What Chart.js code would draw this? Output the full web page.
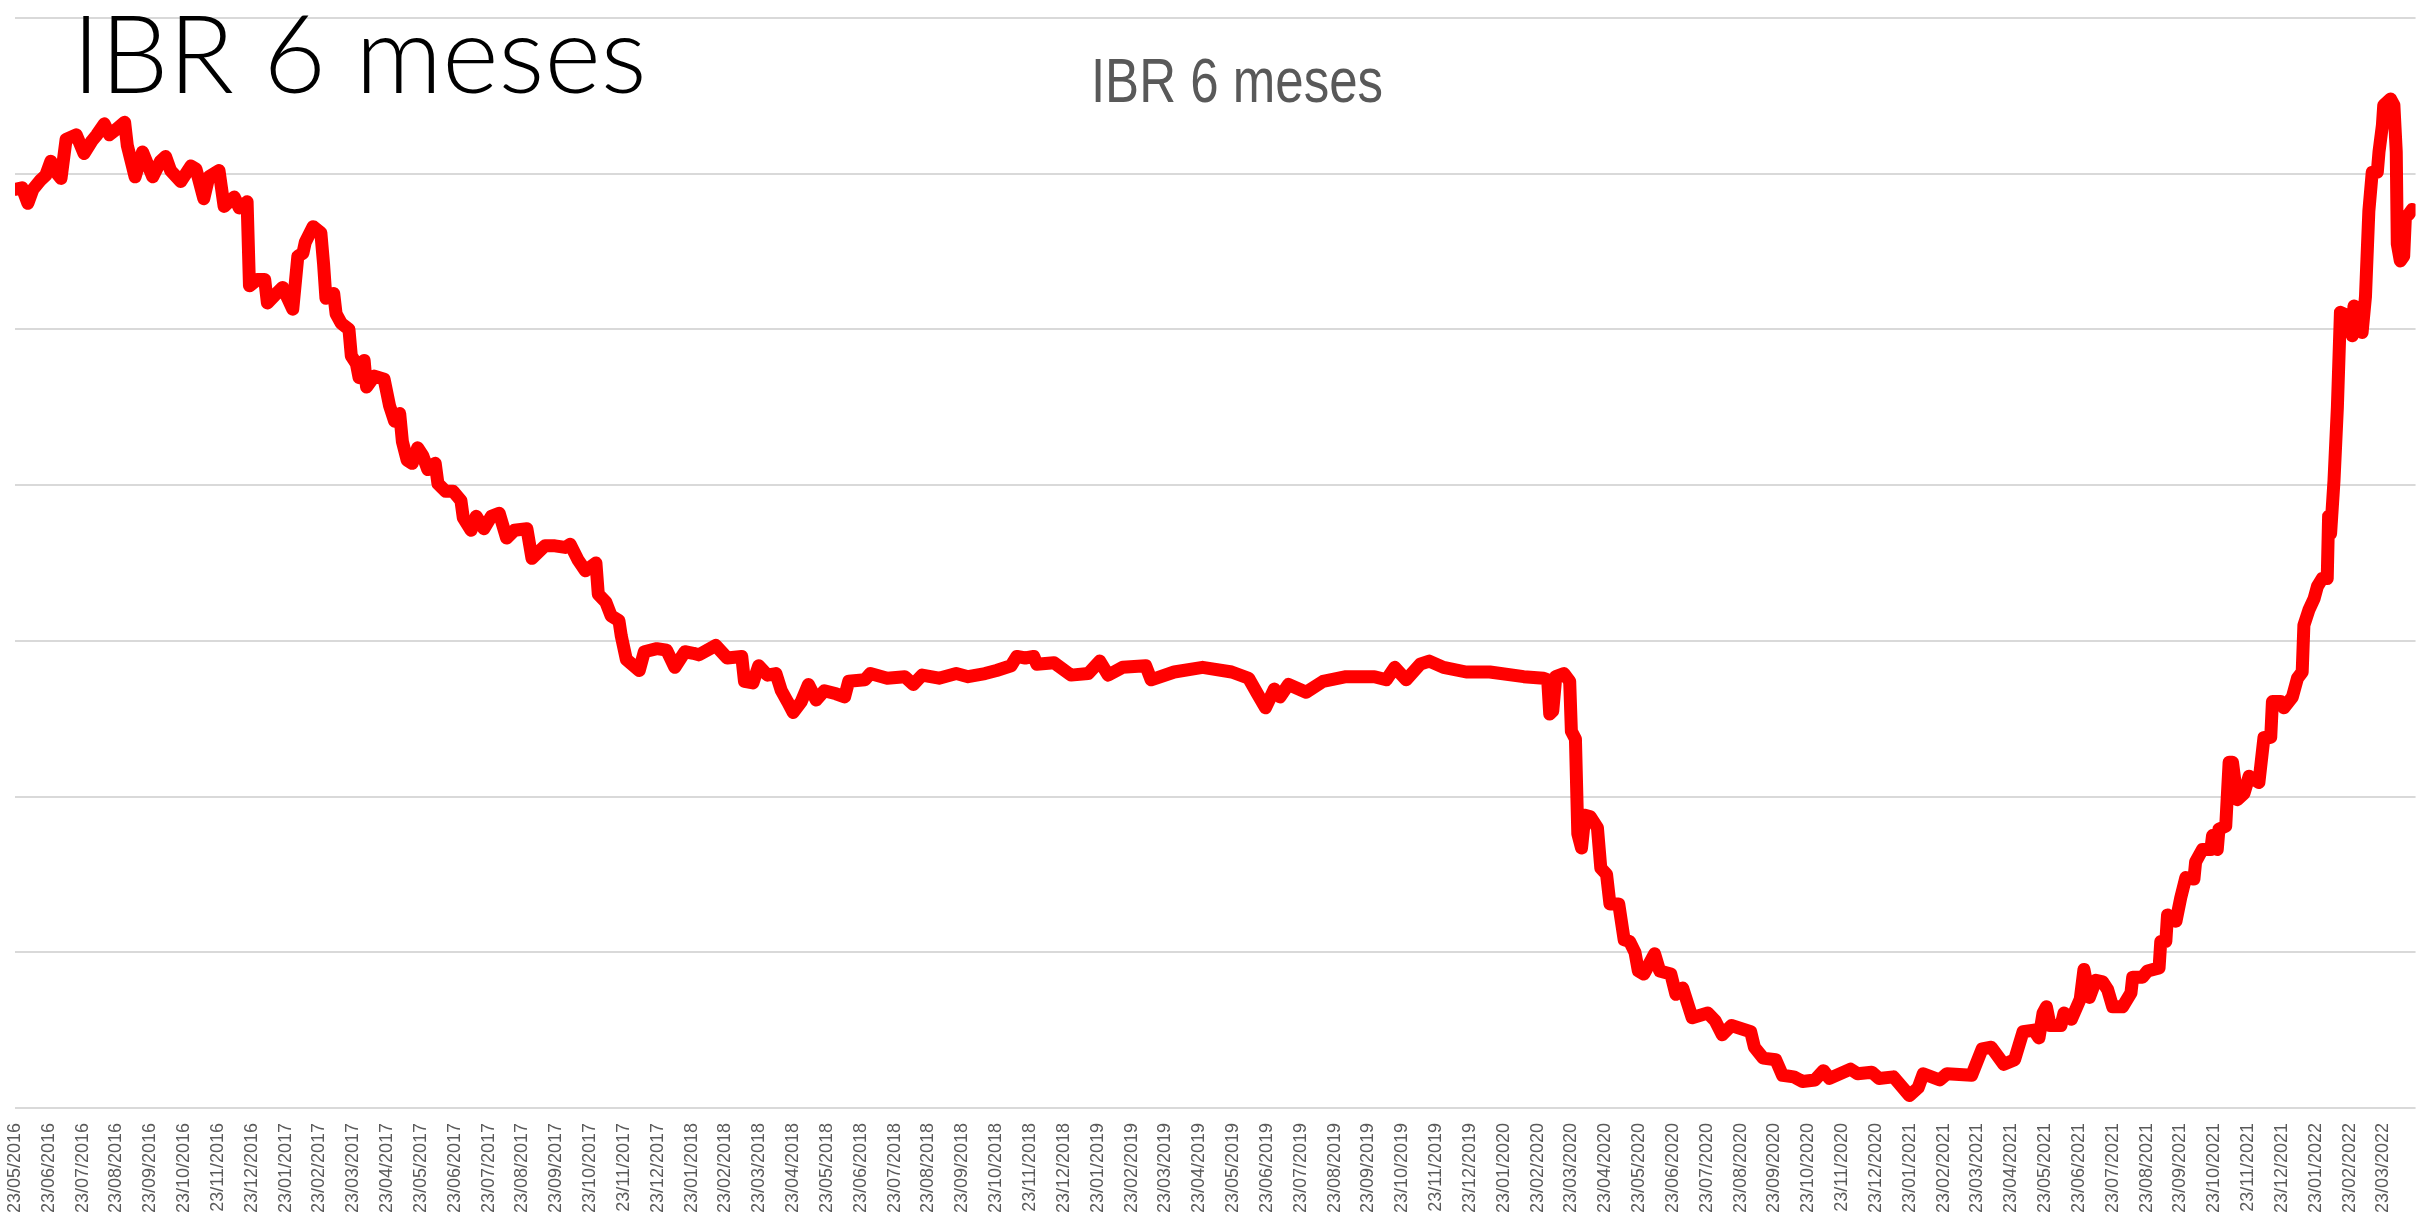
<!DOCTYPE html>
<html lang="es">
<head>
<meta charset="utf-8">
<title>IBR 6 meses</title>
<script src="https://cdn.jsdelivr.net/npm/chart.js@4.4.1/dist/chart.umd.min.js"></script>
<style>
  html, body { margin: 0; padding: 0; background: #fff; }
  #marco { position: relative; width: 2420px; height: 1217px; overflow: hidden; }
  #grafico { position: absolute; left: 0; top: 0; }
  #tituloDiapositiva {
    position: absolute; left: 72px; top: -3px;
    font-family: Lato, "Open Sans", sans-serif; font-weight: 300;
    font-size: 108px; line-height: 108px; color: #000; white-space: nowrap;
  }
  #tituloGrafico {
    position: absolute; left: 1237px; top: 49px;
    font-family: "Liberation Sans", Arial, sans-serif;
    font-size: 63px; line-height: 63px; color: #595959; white-space: nowrap;
    transform: translateX(-50%) scaleX(0.81);
  }
</style>
</head>
<body>
<div id="marco">
  <canvas id="grafico" width="2420" height="1217"></canvas>
  <div id="tituloDiapositiva">IBR 6 meses</div>
  <div id="tituloGrafico">IBR 6 meses</div>
</div>
<script>
// Posición en meses desde el 23/05/2016
const mesesX = [
  0.00, 0.21, 0.38, 0.53, 0.76, 0.91, 1.06, 1.21, 1.36, 1.51, 1.81, 2.04, 2.27, 2.42, 2.64, 2.79,
  3.02, 3.24, 3.32, 3.55, 3.77, 4.07, 4.30, 4.45, 4.60, 4.90, 5.20, 5.35, 5.58, 5.73, 6.03, 6.18,
  6.48, 6.63, 6.86, 6.93, 7.16, 7.38, 7.46, 7.68, 7.91, 8.06, 8.21, 8.36, 8.51, 8.58, 8.81, 9.04,
  9.12, 9.19, 9.42, 9.49, 9.64, 9.87, 9.94, 10.09, 10.17, 10.32, 10.39, 10.62, 10.91, 11.07, 11.22, 11.37,
  11.45, 11.59, 11.74, 11.90, 12.05, 12.20, 12.42, 12.50, 12.73, 12.95, 13.18, 13.25, 13.48, 13.63, 13.86, 14.08,
  14.31, 14.53, 14.76, 15.13, 15.28, 15.66, 15.96, 16.26, 16.41, 16.64, 16.86, 17.17, 17.24, 17.46, 17.62, 17.85,
  17.92, 18.07, 18.45, 18.60, 18.97, 19.26, 19.50, 19.80, 20.05,
  20.21, 20.71, 21.05, 21.48, 21.56, 21.81, 21.98, 22.24, 22.49, 22.65, 22.83, 23.00, 23.24, 23.45, 23.68, 23.92,
  24.27, 24.52, 24.64, 25.12, 25.28, 25.78, 26.30, 26.55, 26.81, 27.31, 27.82, 28.17, 28.67, 29.01, 29.44, 29.61,
  29.86, 30.11, 30.20, 30.71, 31.21, 31.72, 32.06, 32.31, 32.74, 33.42, 33.58, 34.26, 35.10, 35.96, 36.46, 36.72,
  36.96, 37.22, 37.39, 37.64, 38.16, 38.66, 39.34, 40.18, 40.53, 40.78, 41.12, 41.53, 41.80, 42.22, 42.89, 43.59,
  44.59, 45.18, 45.30, 45.36, 45.45, 45.54, 45.78, 45.95, 46.00, 46.12,
  46.19, 46.30, 46.40, 46.56, 46.77, 46.87, 47.04, 47.14, 47.40, 47.56, 47.72, 47.88, 47.98, 48.14, 48.46, 48.61,
  48.94, 49.09, 49.29, 49.57, 50.03, 50.25, 50.46, 50.73, 51.30, 51.41, 51.67, 52.04, 52.24, 52.57, 52.83, 53.20,
  53.45, 53.63, 54.25, 54.46, 54.88, 55.09, 55.52, 55.99, 56.25, 56.40, 56.89, 57.10, 57.83, 58.14, 58.41, 58.78,
  59.10, 59.35, 59.67, 59.82, 59.94, 60.04, 60.15, 60.47, 60.56, 60.78, 61.04, 61.15, 61.31,
  61.50, 61.70, 61.85, 62.00, 62.29, 62.54, 62.59, 62.88, 63.03, 63.37, 63.42, 63.57, 63.62, 63.87, 64.01, 64.16,
  64.40, 64.45, 64.65, 64.90, 64.95, 65.09, 65.14, 65.34, 65.44, 65.54, 65.68, 65.88, 66.03, 66.32, 66.47, 66.67,
  66.72, 66.96, 67.06, 67.31, 67.46, 67.60, 67.65, 67.80, 67.95, 68.05, 68.19, 68.34, 68.38, 68.44, 68.54, 68.64,
  68.73, 68.93, 69.08, 69.13, 69.27, 69.37, 69.47, 69.57, 69.67, 69.82, 69.87, 69.97, 70.01, 70.21, 70.31, 70.38,
  70.41, 70.50, 70.60, 70.65, 70.75, 70.85
];

// Tasa IBR 6 meses (%)
const ibrValores = [
  7.40, 7.41, 7.31, 7.40, 7.46, 7.49, 7.58, 7.51, 7.47, 7.72, 7.75, 7.63, 7.71, 7.75, 7.82, 7.75,
  7.79, 7.83, 7.68, 7.48, 7.64, 7.48, 7.58, 7.61, 7.52, 7.45, 7.55, 7.53, 7.34, 7.48, 7.52, 7.29,
  7.35, 7.28, 7.32, 6.78, 6.82, 6.82, 6.67, 6.72, 6.77, 6.70, 6.63, 6.97, 6.99, 7.06, 7.16, 7.12,
  6.92, 6.70, 6.73, 6.60, 6.54, 6.50, 6.33, 6.28, 6.19, 6.30, 6.13, 6.20, 6.18, 6.01, 5.91, 5.96,
  5.78, 5.66, 5.64, 5.74, 5.69, 5.60, 5.64, 5.51, 5.46, 5.46, 5.40, 5.29, 5.21, 5.30, 5.22, 5.30,
  5.32, 5.16, 5.21, 5.22, 5.03, 5.11, 5.11, 5.10, 5.12, 5.02, 4.95, 5.00, 4.80, 4.75, 4.66, 4.63,
  4.53, 4.38, 4.31, 4.43, 4.45, 4.44, 4.33, 4.43, 4.42,
  4.41, 4.47, 4.39, 4.40, 4.24, 4.23, 4.34, 4.28, 4.29, 4.18, 4.11, 4.04, 4.11, 4.22, 4.12, 4.18,
  4.16, 4.14, 4.24, 4.25, 4.29, 4.26, 4.27, 4.22, 4.28, 4.26, 4.29, 4.27, 4.29, 4.31, 4.34, 4.40,
  4.39, 4.40, 4.35, 4.36, 4.28, 4.29, 4.37, 4.28, 4.33, 4.34, 4.25, 4.30, 4.33, 4.30, 4.26, 4.16,
  4.07, 4.19, 4.14, 4.22, 4.17, 4.24, 4.27, 4.27, 4.25, 4.33, 4.25, 4.35, 4.37, 4.33, 4.30, 4.30,
  4.27, 4.26, 4.25, 4.03, 4.05, 4.27, 4.29, 4.24, 3.92, 3.87,
  3.26, 3.17, 3.38, 3.37, 3.30, 3.04, 3.00, 2.81, 2.81, 2.58, 2.57, 2.50, 2.38, 2.36, 2.49, 2.38,
  2.36, 2.23, 2.27, 2.08, 2.11, 2.06, 1.97, 2.03, 1.99, 1.89, 1.82, 1.81, 1.71, 1.70, 1.67, 1.68,
  1.74, 1.69, 1.75, 1.72, 1.73, 1.69, 1.70, 1.58, 1.63, 1.72, 1.68, 1.72, 1.71, 1.88, 1.89, 1.78,
  1.81, 1.99, 2.00, 1.95, 2.11, 2.15, 2.03, 2.03, 2.11, 2.07, 2.20, 2.39, 2.21,
  2.32, 2.31, 2.26, 2.15, 2.15, 2.24, 2.34, 2.34, 2.38, 2.40, 2.57, 2.57, 2.74, 2.70, 2.85, 2.98,
  2.97, 3.08, 3.16, 3.16, 3.25, 3.16, 3.29, 3.31, 3.72, 3.72, 3.48, 3.52, 3.63, 3.59, 3.88, 3.88,
  4.11, 4.11, 4.07, 4.14, 4.26, 4.30, 4.60, 4.70, 4.77, 4.85, 4.90, 4.90, 5.30, 5.19, 5.53, 6.00,
  6.61, 6.59, 6.46, 6.65, 6.50, 6.48, 6.71, 7.26, 7.51, 7.51, 7.64, 7.81, 7.94, 7.98, 7.94, 7.64,
  7.05, 6.94, 6.97, 7.22, 7.24, 7.27
];

// Etiquetas del eje X: el 23 de cada mes, de mayo 2016 a marzo 2022
const etiquetasX = [];
for (let i = 0; i < 71; i++) {
  const mes = (4 + i) % 12 + 1;
  const anio = 2016 + Math.floor((4 + i) / 12);
  etiquetasX.push('23/' + String(mes).padStart(2, '0') + '/' + anio);
}

const puntos = mesesX.map((x, i) => ({ x: x, y: ibrValores[i] }));

new Chart(document.getElementById('grafico'), {
  type: 'line',
  data: {
    datasets: [{
      label: 'IBR 6 meses',
      data: puntos,
      borderColor: '#ff0000',
      borderWidth: 13,
      borderJoinStyle: 'round',
      borderCapStyle: 'round',
      pointRadius: 0,
      tension: 0,
      fill: false
    }]
  },
  options: {
    responsive: false,
    animation: false,
    layout: { padding: { left: 15, right: 0, top: 18, bottom: 0 } },
    plugins: {
      legend: { display: false },
      tooltip: { enabled: false },
      title: { display: false }
    },
    scales: {
      x: {
        type: 'linear',
        min: 0,
        max: 70.95,
        grid: { display: false, drawTicks: false },
        border: { display: false },
        afterFit: escala => { escala.height = 109; },
        ticks: {
          stepSize: 1,
          includeBounds: false,
          autoSkip: false,
          maxRotation: 90,
          minRotation: 90,
          padding: 15,
          color: '#595959',
          font: { family: '"Liberation Sans", Arial, sans-serif', size: 18 },
          callback: v => etiquetasX[v] !== undefined && Number.isInteger(v) ? etiquetasX[v] : ''
        }
      },
      y: {
        min: 1.5,
        max: 8.5,
        grid: { color: '#d9d9d9', lineWidth: 2, drawTicks: false },
        border: { display: false },
        ticks: { display: false, stepSize: 1 }
      }
    }
  }
});
</script>
</body>
</html>
